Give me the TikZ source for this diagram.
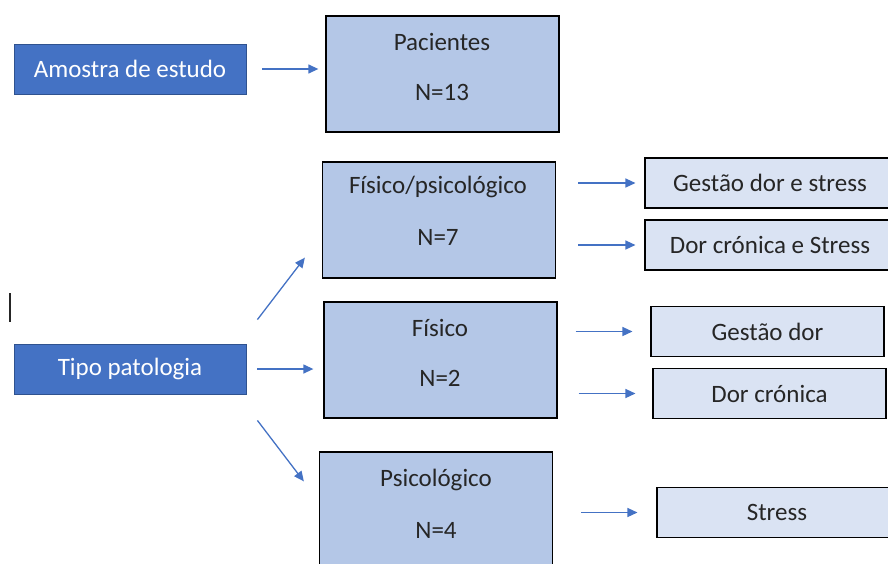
\documentclass[tikz,border=0pt]{standalone}
\usepackage{fontspec}
\setmainfont{Carlito}
\usetikzlibrary{arrows.meta}
\definecolor{darkblue}{HTML}{4472C4}
\definecolor{darkline}{HTML}{2F528F}
\definecolor{midblue}{HTML}{B4C7E7}
\definecolor{paleblue}{HTML}{DAE3F3}
\definecolor{textgray}{HTML}{262626}

\begin{document}
\begin{tikzpicture}
  [x=1pt,y=-1pt,
   every node/.style={font=\fontsize{25}{29}\selectfont,text=textgray},
   head/.style={draw=darkline,fill=darkblue,text=white,minimum width=232pt,minimum height=50pt,line width=.8pt},
   group/.style={draw=black,fill=midblue,minimum width=233pt,minimum height=116pt,line width=1.3pt},
   kind/.style={draw=black,fill=paleblue,minimum height=50pt,line width=1.1pt},
   arr/.style={draw=darkblue,line width=1.3pt,-{Triangle[length=10pt,width=9pt]}}]
  \useasboundingbox (0,0) rectangle (888,563);
  \clip (0,0) rectangle (888,563);

  % left column
  \node[head] (amostra) at (130,69) {Amostra de estudo};
  \node[head] (tipo) at (130,369) {Tipo patologia};
  \draw[textgray,line width=1.5pt] (10,293) -- (10,322);

  % groups
  \node[group] (pac) at (442.5,74) {};
  \node (pacT) at (442,42) {Pacientes};
  \node (pacN) at (442,92) {N=13};

  \node[group] (fp) at (439,220) {};
  \node (fpT) at (438,187) {Físico/psicológico};
  \node (fpN) at (438,237) {N=7};

  \node[group] (fis) at (440.5,360) {};
  \node (fisT) at (440,328) {Físico};
  \node (fisN) at (440,378) {N=2};

  \node[group] (psi) at (436,510) {};
  \node (psiT) at (436,480) {Psicológico};
  \node (psiN) at (436,530) {N=4};

  % outcomes
  \node[kind,minimum width=250pt] (g1) at (770,183) {Gestão dor e stress};
  \node[kind,minimum width=250pt] (g2) at (770,245) {Dor crónica e Stress};
  \node[kind,minimum width=233pt] (g3) at (767.5,331.5) {Gestão dor};
  \node[kind,minimum width=233pt] (g4) at (769.5,393.5) {Dor crónica};
  \node[kind,minimum width=240pt] (g5) at (777,512.5) {Stress};

  % arrows
  \draw[arr,shorten <=16pt,shorten >=7pt] (amostra) -- (amostra -| pac.west);
  \draw[arr,shorten <=11pt,shorten >=10pt] (tipo) -- (tipo -| fis.west);
  \draw[arr] ([shift={(11,-24)}]tipo.north east) -- ([shift={(-17,-21)}]fp.south west);
  \draw[arr] ([shift={(11,26)}]tipo.south east) -- ([shift={(-15,30)}]psi.north west);
  \foreach \from/\to/\a/\b in {fp/g1/22/9,fp/g2/22/9,fis/g3/18/18,fis/g4/21/17,psi/g5/28/19}
    \draw[arr,shorten <=\a pt,shorten >=\b pt] (\from.east |- \to) -- (\to.west);
\end{tikzpicture}
\end{document}
